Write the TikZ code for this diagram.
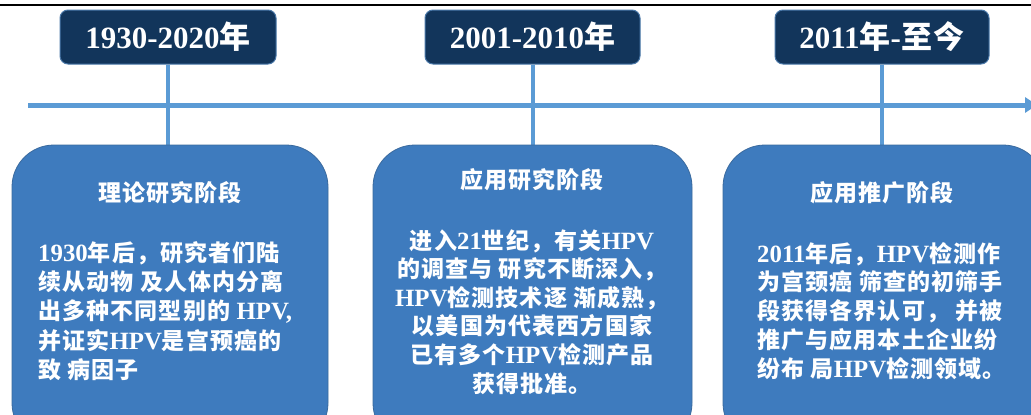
\documentclass[tikz,border=0pt]{standalone}
\usepackage{fontspec}
\setmainfont{Liberation Serif}
\newfontfamily\enb{Liberation Serif}[Scale=1.08]
\newfontfamily\cjk{Noto Sans CJK SC}[LetterSpace=5]
\usetikzlibrary{arrows.meta}
\definecolor{navy}{HTML}{12355B}
\definecolor{navyedge}{HTML}{4A78A8}
\definecolor{stageblue}{HTML}{3E7BBE}
\definecolor{stageedge}{HTML}{3A6A9E}
\definecolor{tlblue}{HTML}{5B9BD5}
\newcommand\en[1]{{\rmfamily\bfseries #1}}
\newcommand\eb[1]{{\enb\bfseries #1}}
\tikzset{
  yearbox/.style={draw=navyedge, line width=1pt, fill=navy, rounded corners=8pt,
    minimum width=215pt, minimum height=54pt, inner sep=0pt, text=white,
    font=\cjk\bfseries\fontsize{31}{36}\selectfont},
  stagebox/.style={draw=stageedge, line width=0.8pt, fill=stageblue, rounded corners=42pt,
    minimum height=300pt, inner sep=0pt},
  stagetitle/.style={text=white, inner sep=0pt, font=\cjk\bfseries\fontsize{23}{28}\selectfont},
  stagebody/.style={text=white, inner sep=0pt},
  tl/.style={draw=tlblue, line width=5pt},
  stem/.style={draw=tlblue, line width=4pt},
  topline/.style={draw=black, line width=2.4pt}
}
\begin{document}
\begin{tikzpicture}[x=1pt,y=-1pt]
\useasboundingbox (0,0) rectangle (1031,415);
\clip (0,0) rectangle (1031,415);
\fill[white] (0,0) rectangle (1031,415);

\coordinate (tp0) at (0,5);
\coordinate (tp1) at (1031,5);
\draw[topline] (tp0) -- (tp1);

% header boxes
\node[yearbox, minimum width=216pt] (h1) at (168,37) {\en{1930-2020}年};
\node[yearbox] (h2) at (532.5,37) {\en{2001-2010}年};
\node[yearbox, minimum width=214pt] (h3) at (882,37) {\en{2011}年\en{-}至今};

% stage boxes (positions)
\coordinate (b1) at (170,295);
\coordinate (b2) at (532.5,295);
\coordinate (b3) at (884,295);

% stems
\draw[stem] (h1.south) -- (h1.south |- 0,146);
\draw[stem] (h2.south) -- (h2.south |- 0,146);
\draw[stem] (h3.south) -- (h3.south |- 0,146);

% timeline
\coordinate (tl0) at (28,105);
\coordinate (tl1) at (1037,105);
\draw[tl, -{Triangle[length=12pt,width=15pt]}] (tl0) -- (tl1);

\node[stagebox, minimum width=316pt] (s1) at (b1) {};
\node[stagebox, minimum width=319pt] (s2) at (b2) {};
\node[stagebox, minimum width=322pt] (s3) at (b3) {};

% titles
\node[stagetitle] (t1) at (170,193) {理论研究阶段};
\node[stagetitle] (t2) at (532,180) {应用研究阶段};
\node[stagetitle] (t3) at (882,193) {应用推广阶段};

% bodies
\node[stagebody, anchor=north west, align=left,
  font=\cjk\bfseries\fontsize{23}{29.3}\selectfont] (d1) at (38,241)
  {\eb{1930}年后，研究者们陆\\续从动物 及人体内分离\\出多种不同型别的 \eb{HPV,}\\并证实\eb{HPV}是宫预癌的\\致 病因子};
\node[stagebody, anchor=north, align=center,
  font=\cjk\bfseries\fontsize{23}{28.6}\selectfont] (d2) at (532,229)
  {进入\eb{21}世纪，有关\eb{HPV}\\的调查与 研究不断深入，\\\eb{HPV}检测技术逐 渐成熟，\\以美国为代表西方国家\\已有多个\eb{HPV}检测产品\\获得批准。};
\node[stagebody, anchor=north west, align=left,
  font=\cjk\bfseries\fontsize{23}{28.8}\selectfont] (d3) at (757,242)
  {\eb{2011}年后，\eb{HPV}检测作\\为宫颈癌 筛查的初筛手\\段获得各界认可， 并被\\推广与应用本土企业纷\\纷布 局\eb{HPV}检测领域。};
\end{tikzpicture}
\end{document}
